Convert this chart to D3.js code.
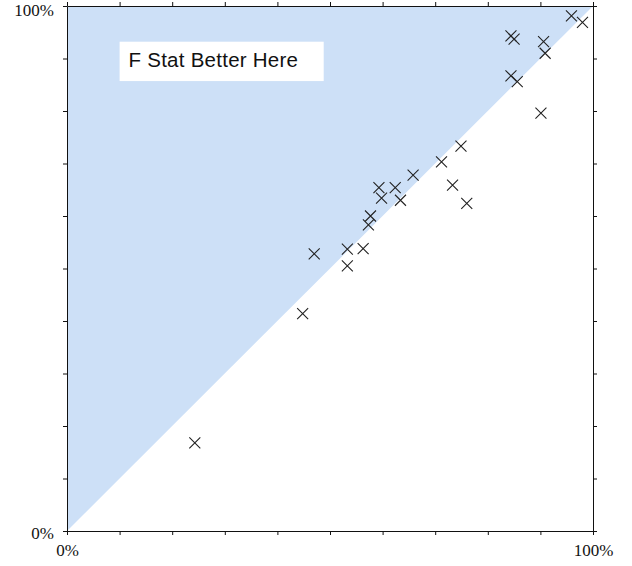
<!DOCTYPE html>
<html>
<head>
<meta charset="utf-8">
<script src="https://cdn.jsdelivr.net/npm/d3@7"></script>
<style>
  body { margin: 0; background: #fff; }
</style>
</head>
<body>
<div id="container"></div>
<script>
// values in percent
const xVals = [24.3, 44.8, 47.0, 53.3, 53.3, 56.3, 57.3, 57.7, 59.3, 59.8, 62.4, 63.4, 65.8,
               71.2, 73.3, 74.9, 76.0, 84.4, 85.0, 84.4, 85.6, 90.6, 90.9, 90.1, 95.9, 98.0]
const yVals = [16.8, 41.4, 52.8, 53.7, 50.5, 53.8, 58.3, 60.0, 65.4, 63.4, 65.4, 63.0, 67.8,
               70.3, 65.9, 73.3, 62.4, 94.3, 93.7, 86.7, 85.6, 93.2, 91.0, 79.6, 98.1, 96.9]
const tickVals = [0, 10, 20, 30, 40, 50, 60, 70, 80, 90, 100]
const labelVals = [0, 100]
const annotation = "F Stat Better Here"

let width = 632
let height = 566
let margin = {top: 6, right: 39, bottom: 35, left: 67}

let data = xVals.map((x, i) => ({x: x, y: yVals[i]}))

let svg = d3.select("#container")
    .append("svg")
    .attr("width", width)
    .attr("height", height)

let x = d3.scaleLinear()
    .domain([0, 100])
    .range([margin.left, width - margin.right])

let y = d3.scaleLinear()
    .domain([0, 100])
    .range([height - margin.bottom, margin.top])

// shaded triangle above the diagonal
svg.append("path")
    .attr("d", d3.line()([[x(0), y(0)], [x(0), y(100)], [x(100), y(100)]]))
    .attr("fill", "#cde0f7")

// annotation box
svg.append("rect")
    .attr("x", x(10))
    .attr("y", y(93.2))
    .attr("width", x(48.8) - x(10))
    .attr("height", y(85.7) - y(93.2))
    .attr("fill", "white")

svg.append("text")
    .attr("x", x(11.7))
    .attr("y", y(88.4))
    .attr("font-family", "Liberation Sans, Arial, sans-serif")
    .attr("font-size", 20.5)
    .attr("letter-spacing", 0.25)
    .attr("fill", "#111")
    .text(annotation)

// markers
let s = 5.5
svg.append("g")
    .attr("stroke", "#222")
    .attr("stroke-width", 1.1)
    .selectAll("path")
    .data(data)
    .join("path")
        .attr("d", d => {
            let cx = x(d.x), cy = y(d.y)
            return `M${cx - s},${cy - s}L${cx + s},${cy + s}M${cx - s},${cy + s}L${cx + s},${cy - s}`
        })

const fmt = d => labelVals.includes(d) ? d + "%" : ""

function styleAxis(g) {
    g.selectAll("text")
        .attr("font-family", "Liberation Serif, Times New Roman, serif")
        .attr("font-size", 17)
        .attr("fill", "#111")
    g.selectAll("line, path").attr("stroke", "#111")
}

svg.append("g")
    .attr("transform", `translate(0,${y(0)})`)
    .call(d3.axisBottom(x).tickValues(tickVals).tickFormat(fmt).tickSize(4).tickPadding(9).tickSizeOuter(0))
    .call(styleAxis)

svg.append("g")
    .attr("transform", `translate(0,${y(100)})`)
    .call(d3.axisTop(x).tickValues(tickVals).tickFormat("").tickSize(4).tickSizeOuter(0))
    .call(styleAxis)

svg.append("g")
    .attr("transform", `translate(${x(0)},0)`)
    .call(d3.axisLeft(y).tickValues(tickVals).tickFormat(fmt).tickSize(4).tickPadding(9).tickSizeOuter(0))
    .call(styleAxis)
    .call(g => g.selectAll("text").attr("y", d => d == 100 ? 4 : 2))

svg.append("g")
    .attr("transform", `translate(${x(100)},0)`)
    .call(d3.axisRight(y).tickValues(tickVals).tickFormat("").tickSize(4).tickSizeOuter(0))
    .call(styleAxis)
</script>
</body>
</html>
